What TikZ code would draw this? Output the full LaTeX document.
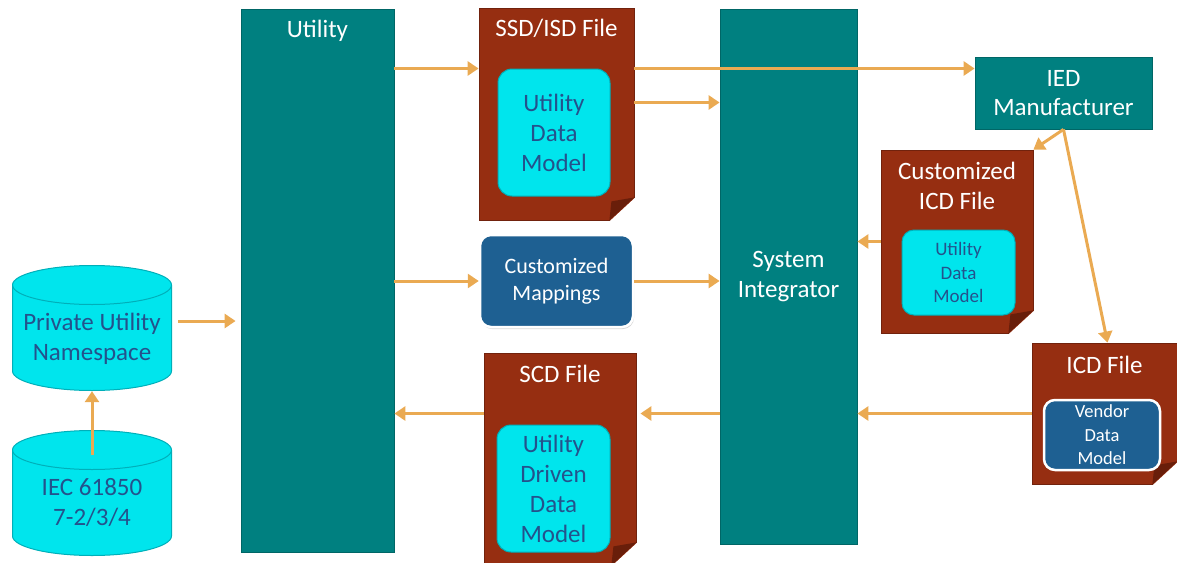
\documentclass[tikz,border=0pt]{standalone}
\usepackage{fontspec}
\setmainfont{Carlito}
\usetikzlibrary{arrows.meta,calc,positioning,shapes.geometric,shadows}
\definecolor{TealBox}{RGB}{0,128,128}
\definecolor{DocBrown}{RGB}{150,46,17}
\definecolor{FoldBrown}{RGB}{105,30,10}
\definecolor{ModelCyan}{RGB}{0,229,237}
\definecolor{ModelEdge}{RGB}{0,175,185}
\definecolor{ModelText}{RGB}{36,82,140}
\definecolor{MapBlue}{RGB}{30,96,146}
\definecolor{FlowOrange}{RGB}{234,170,82}
\newcommand\bigtxt{\fontsize{25}{30}\selectfont}
\newcommand\midtxt{\fontsize{22}{27}\selectfont}
\newcommand\smalltxt{\fontsize{19}{23.5}\selectfont}
\newcommand\dogear[1]{%
  \fill[white] ([xshift=-25pt,yshift=-1pt]#1.south east) -- ([xshift=1pt,yshift=-1pt]#1.south east) -- ([xshift=1pt,yshift=23pt]#1.south east) -- cycle;
  \fill[FoldBrown] ([xshift=-25pt]#1.south east) -- ([yshift=23pt]#1.south east) -- ([xshift=-23pt,yshift=19pt]#1.south east) -- cycle;}
\newcommand\cyltext[1]{\raisebox{-11pt}[\height][\depth]{\begin{tabular}{@{}c@{}}#1\end{tabular}}}

\begin{document}
\begin{tikzpicture}[x=1pt,y=-1pt,
  bigbox/.style={fill=TealBox,draw=TealBox!80!black,line width=.8},
  docbox/.style={fill=DocBrown,draw=DocBrown!75!black,line width=.8},
  model/.style={fill=ModelCyan,draw=ModelEdge,line width=1,rounded corners=14,text=ModelText,align=center},
  darkmodel/.style={fill=MapBlue,draw=white,line width=2.5,rounded corners=11,text=white,align=center,inner sep=1},
  cyl/.style={minimum width=160,minimum height=126,text=ModelText,font=\bigtxt,inner sep=0,
    path picture={
      \path[fill=ModelCyan,draw=ModelEdge,line width=1]
        ([xshift=.5pt,yshift=-20pt]path picture bounding box.north west) -- ([xshift=.5pt,yshift=20pt]path picture bounding box.south west)
        arc[start angle=180,end angle=360,x radius=79.5pt,y radius=19.5pt]
        -- ([xshift=-.5pt,yshift=-20pt]path picture bounding box.north east)
        arc[start angle=0,end angle=180,x radius=79.5pt,y radius=19.5pt] -- cycle;
      \draw[ModelEdge,line width=1] ([xshift=.5pt,yshift=-20pt]path picture bounding box.north west)
        arc[start angle=180,end angle=360,x radius=79.5pt,y radius=19.5pt];}},
  title/.style={text=white,align=center,font=\bigtxt},
  flow/.style={draw=FlowOrange,line width=3,-{Triangle[length=11pt,width=14pt]}}]
\useasboundingbox (0,0) rectangle (1177,562);
% utility side
\node[cyl] (pun) at (92,328) {\cyltext{Private Utility\\Namespace}};
\node[cyl] (iec) at (92,493) {\cyltext{IEC 61850\\7-2/3/4}};
\node[bigbox,minimum width=153,minimum height=543,label={[title,anchor=center,yshift=-22]north:Utility}] (util) at (317.5,280.5) {};
% files in the middle
\node[docbox,minimum width=155,minimum height=212,label={[title,anchor=center,yshift=-21]north:SSD/ISD File}] (ssd) at (556.5,114) {};
\dogear{ssd}
\node[model,minimum width=112,minimum height=127,font=\bigtxt] (ssdm) at (554,132.5) {Utility\\Data\\Model};
\node[darkmodel,minimum width=153,minimum height=92,font=\midtxt,drop shadow={opacity=.3,shadow xshift=1pt,shadow yshift=-2pt}] (map) at (556.5,281) {Customized\\Mappings};
\node[docbox,minimum width=152,minimum height=212,label={[title,anchor=center,yshift=-21]north:SCD File}] (scd) at (560,459) {};
\dogear{scd}
\node[model,minimum width=113,minimum height=127,font=\bigtxt,inner sep=1] (scdm) at (553.5,488.5) {Utility\\Driven\\Data\\Model};
% integrator and vendor side
\node[bigbox,minimum width=137,minimum height=535,title] (si) at (788.5,276.5) {System\\Integrator};
\node[bigbox,minimum width=177,minimum height=72,title,font=\fontsize{25}{29}\selectfont] (ied) at (1063.5,93) {IED\\Manufacturer};
\node[docbox,minimum width=152,minimum height=183,label={[title,anchor=center,yshift=-36]north:{Customized\\ICD File}}] (cicd) at (957,241.5) {};
\dogear{cicd}
\node[model,minimum width=113,minimum height=85,font=\smalltxt,rounded corners=12,inner sep=1] (cicdm) at (958.5,272.5) {Utility\\Data\\Model};
\node[docbox,minimum width=145,minimum height=141,label={[title,anchor=center,yshift=-22]north:ICD File}] (icd) at (1104.5,413.5) {};
\dogear{icd}
\node[darkmodel,minimum width=116,minimum height=70,font=\fontsize{18.5}{23.5}\selectfont] (icdm) at (1102,435) {Vendor\\Data\\Model};
% flows
\draw[flow] ([yshift=-25]iec.north) -- (pun.south);
\draw[flow,shorten <=6,shorten >=5] ([yshift=7]pun.east) -- ([yshift=7]pun.east -| util.west);
\draw[flow] (util.east |- ssdm.north) -- (ssd.west |- ssdm.north);
\draw[flow] (ssd.east |- ssdm.north) -- (ied.west |- ssdm.north);
\draw[flow] ($(ssd.east |- ssdm.north)+(0,34)$) -- ($(si.west |- ssdm.north)+(0,34)$);
\draw[flow] (util.east |- map.west) -- (map.west);
\draw[flow] (map.east) -- (map.east -| si.west);
\draw[flow,shorten >=4] (si.west |- icd.west) -- (scd.east |- icd.west);
\draw[flow] (scd.west |- icd.west) -- (util.east |- icd.west);
\draw[flow] (cicd.west) -- (cicd.west -| si.east);
\draw[flow] (icd.west) -- (icd.west -| si.east);
\draw[flow] (ied.south) -- (cicd.north east);
\draw[flow] (ied.south) -- ([xshift=3]icd.north);
\end{tikzpicture}
\end{document}
